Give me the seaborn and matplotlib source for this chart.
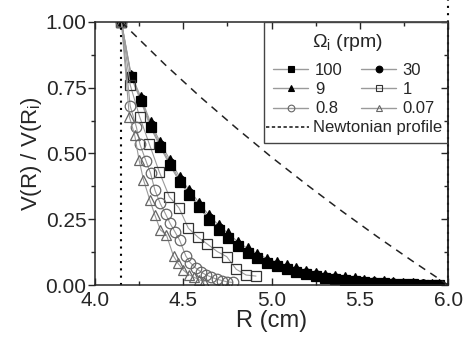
import matplotlib
matplotlib.use("Agg")
import matplotlib.pyplot as plt
import seaborn as sns
from matplotlib.ticker import MultipleLocator, FormatStrFormatter
from matplotlib.lines import Line2D
from matplotlib.patches import Rectangle

# ---- data ----
R_filled = [4.15, 4.205, 4.26, 4.315, 4.37, 4.425, 4.48, 4.535, 4.59, 4.645,
            4.70, 4.755, 4.81, 4.865, 4.92, 4.975, 5.03, 5.085, 5.14, 5.195,
            5.25, 5.305, 5.36, 5.415, 5.47, 5.525, 5.58, 5.635, 5.69, 5.745,
            5.80, 5.855, 5.91, 5.95]
v100 = [1.0, 0.79, 0.70, 0.60, 0.525, 0.455, 0.392, 0.342, 0.295, 0.248,
        0.21, 0.178, 0.147, 0.122, 0.103, 0.085, 0.072, 0.06, 0.05, 0.041,
        0.034, 0.027, 0.022, 0.018, 0.014, 0.011, 0.009, 0.007, 0.005, 0.004,
        0.003, 0.002, 0.002, 0.001]
v30 = [1.0, 0.795, 0.706, 0.608, 0.532, 0.463, 0.399, 0.349, 0.302, 0.254,
       0.216, 0.184, 0.152, 0.127, 0.108, 0.089, 0.076, 0.064, 0.054, 0.045,
       0.037, 0.030, 0.025, 0.020, 0.016, 0.013, 0.010, 0.008, 0.006, 0.005,
       0.004, 0.003, 0.002, 0.002]
v9 = [1.0, 0.80, 0.715, 0.618, 0.542, 0.475, 0.41, 0.36, 0.313, 0.265,
      0.228, 0.196, 0.164, 0.139, 0.119, 0.10, 0.087, 0.075, 0.064, 0.055,
      0.047, 0.04, 0.034, 0.029, 0.025, 0.021, 0.017, 0.014, 0.011, 0.009,
      0.007, 0.005, 0.004, 0.003]

R_1 = [4.15, 4.20, 4.253, 4.308, 4.364, 4.421, 4.476, 4.529, 4.585, 4.636,
       4.693, 4.746, 4.80, 4.856, 4.912]
v_1 = [1.0, 0.76, 0.64, 0.536, 0.431, 0.336, 0.293, 0.216, 0.181, 0.156,
       0.127, 0.108, 0.060, 0.038, 0.034]

R_08 = [4.15, 4.20, 4.235, 4.255, 4.29, 4.315, 4.34, 4.37, 4.40, 4.425, 4.455,
        4.48, 4.515, 4.54, 4.57, 4.60, 4.63, 4.66, 4.69, 4.72, 4.75, 4.78]
v_08 = [1.0, 0.68, 0.60, 0.535, 0.47, 0.425, 0.36, 0.31, 0.27, 0.235, 0.20,
        0.17, 0.11, 0.085, 0.065, 0.05, 0.038, 0.03, 0.022, 0.017, 0.012, 0.01]

R_007 = [4.15, 4.195, 4.225, 4.25, 4.275, 4.31, 4.34, 4.37, 4.405, 4.445,
         4.47, 4.50, 4.53, 4.56, 4.59, 4.62]
v_007 = [1.0, 0.64, 0.57, 0.475, 0.40, 0.325, 0.265, 0.21, 0.19, 0.11,
         0.083, 0.057, 0.04, 0.03, 0.02, 0.012]

R_newt = [4.15, 4.4, 4.6, 4.8, 5.0, 5.2, 5.4, 5.6, 5.8, 6.0]
v_newt = [1.0, 0.836, 0.713, 0.597, 0.486, 0.381, 0.280, 0.183, 0.090, 0.0]

R_inner = 4.15
R_outer = 6.0

legend_labels = ['100', '9', '0.8', '30', '1', '0.07']

# ---- style ----
sns.set_style("ticks")
plt.rcParams['font.family'] = ['Liberation Sans', 'DejaVu Sans']
plt.rcParams['mathtext.fontset'] = 'custom'
plt.rcParams['mathtext.rm'] = 'Liberation Sans'
plt.rcParams['mathtext.it'] = 'Liberation Sans:italic'

fig = plt.figure(figsize=(4.63, 3.43), dpi=100)
ax = fig.add_axes([0.205, 0.169, 0.763, 0.767])

line_col = '#9a9a9a'
ms_f = 6.6
ms_o = 7.6

series = [
    (R_filled, v9, '^', 'black', 'black', ms_f),
    (R_filled, v30, 'o', 'black', 'black', ms_f),
    (R_filled, v100, 's', 'black', 'black', ms_f),
    (R_1, v_1, 's', 'none', '#333333', ms_o),
    (R_08, v_08, 'o', 'none', '#666666', ms_o),
    (R_007, v_007, '^', 'none', '#666666', ms_o),
]
for xs, ys, mk, fc, ec, ms in series:
    sns.lineplot(x=xs, y=ys, ax=ax, color=line_col, linewidth=0.8, sort=False,
                 marker=mk, markersize=ms, markerfacecolor=fc,
                 markeredgecolor=ec, markeredgewidth=0.9, legend=False)

sns.lineplot(x=R_newt, y=v_newt, ax=ax, color='#222222', linewidth=1.1,
             linestyle=(0, (5, 4)), legend=False)

ax.axvline(R_inner, color='black', linestyle=(0, (1, 2.5)), linewidth=1.5)
ax.axvline(R_outer, ymin=0, ymax=1.09, color='black',
           linestyle=(0, (1, 2.5)), linewidth=1.5, clip_on=False)

ax.set_xlim(4.0, 6.0)
ax.set_ylim(0.0, 1.0)
ax.xaxis.set_major_locator(MultipleLocator(0.5))
ax.xaxis.set_minor_locator(MultipleLocator(0.25))
ax.yaxis.set_major_locator(MultipleLocator(0.25))
ax.yaxis.set_minor_locator(MultipleLocator(0.125))
ax.xaxis.set_major_formatter(FormatStrFormatter('%.1f'))
ax.yaxis.set_major_formatter(FormatStrFormatter('%.2f'))

ax.tick_params(axis='x', which='both', direction='in', top=True, labelsize=15, pad=4)
ax.tick_params(axis='y', which='both', direction='out', labelsize=15, pad=1)
ax.tick_params(which='major', length=5, width=1)
ax.tick_params(which='minor', length=3, width=1)
for sp in ax.spines.values():
    sp.set_linewidth(1.1)
    sp.set_visible(True)

sec = ax.secondary_yaxis('right')
sec.yaxis.set_major_locator(MultipleLocator(0.25))
sec.yaxis.set_minor_locator(MultipleLocator(0.125))
sec.tick_params(which='both', direction='in', labelright=False, width=1)
sec.tick_params(which='major', length=5)
sec.tick_params(which='minor', length=3)
sec.spines['right'].set_linewidth(1.1)

ax.set_xlabel("R (cm)", fontsize=17, labelpad=0)
ax.set_ylabel(r"V(R) / V(R$_{\rm i}$)", fontsize=16, labelpad=1)

# ---- legend ----
def h(mk, fc, ec):
    return Line2D([], [], color=line_col, linewidth=1.0, marker=mk,
                  markersize=4.8, markerfacecolor=fc, markeredgecolor=ec,
                  markeredgewidth=0.8)

handles = [h('s', 'black', 'black'), h('^', 'black', 'black'),
           h('o', 'none', '#666666'),
           h('o', 'black', 'black'), h('s', 'none', '#333333'),
           h('^', 'none', '#666666')]
leg = ax.legend(handles, legend_labels, ncol=2,
                frameon=False, fontsize=12,
                loc='upper left', bbox_to_anchor=(0.505, 0.845),
                handlelength=2.1, handletextpad=0.4, columnspacing=1.1,
                labelspacing=0.26, borderaxespad=0.0, borderpad=0.0)
ax.add_artist(leg)
ax.text(0.714, 0.922, r"$\Omega_{\rm i}$ (rpm)", transform=ax.transAxes,
        fontsize=14, ha='center', va='center')
leg2 = ax.legend([Line2D([], [], color='#222222', linestyle=(0, (2, 1.5)), linewidth=1.2)],
                 ['Newtonian profile'], frameon=False, fontsize=12,
                 loc='upper left', bbox_to_anchor=(0.484, 0.626),
                 handlelength=2.6, handletextpad=0.25, borderaxespad=0.0,
                 borderpad=0.0)
ax.add_patch(Rectangle((0.48, 0.54), 0.52, 0.46, transform=ax.transAxes,
                       facecolor='none', edgecolor='#444444', linewidth=1.0,
                       zorder=5))

fig.savefig("out.png", dpi=100)
